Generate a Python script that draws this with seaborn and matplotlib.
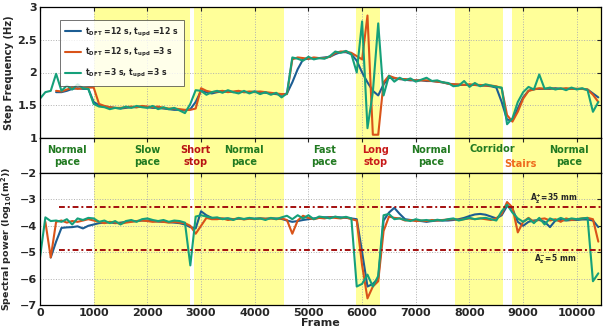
import numpy as np
import pandas as pd
import matplotlib
matplotlib.use("Agg")
import matplotlib.pyplot as plt
import seaborn as sns

frames = list(range(0, 10500, 100))
nan = np.nan

freq_blue = [nan, nan, nan, 1.70, 1.70, 1.72, 1.75, 1.76, 1.75, 1.75,
             1.55, 1.50, 1.48, 1.47, 1.46, 1.45, 1.46, 1.47, 1.47, 1.48,
             1.47, 1.46, 1.46, 1.45, 1.44, 1.43, 1.43, 1.42, 1.44, 1.55,
             1.72, 1.70, 1.68, 1.70, 1.71, 1.71, 1.70, 1.71, 1.70, 1.70,
             1.71, 1.70, 1.69, 1.68, 1.67, 1.66, 1.68, 1.85, 2.05, 2.20,
             2.21, 2.22, 2.22, 2.23, 2.24, 2.28, 2.31, 2.31, 2.28, 2.18,
             2.00, 1.85, 1.72, 1.65, 1.82, 1.92, 1.91, 1.90, 1.89, 1.88,
             1.88, 1.88, 1.87, 1.87, 1.86, 1.85, 1.83, 1.82, 1.81, 1.81,
             1.81, 1.81, 1.80, 1.80, 1.79, 1.77, 1.55, 1.28, 1.27, 1.45,
             1.62, 1.72, 1.75, 1.75, 1.75, 1.75, 1.76, 1.75, 1.75, 1.75,
             1.75, 1.75, 1.74, 1.68, 1.62]
freq_orange = [nan, nan, nan, 1.72, 1.71, 1.74, 1.77, 1.75, 1.76, 1.77,
               1.77, 1.52, 1.49, 1.47, 1.46, 1.46, 1.47, 1.48, 1.47, 1.49,
               1.48, 1.47, 1.48, 1.46, 1.45, 1.45, 1.44, 1.43, 1.43, 1.45,
               1.76, 1.72, 1.70, 1.71, 1.72, 1.70, 1.71, 1.72, 1.70, 1.71,
               1.70, 1.71, 1.70, 1.69, 1.68, 1.67, 1.67, 2.20, 2.23, 2.22,
               2.21, 2.23, 2.22, 2.22, 2.24, 2.30, 2.32, 2.32, 2.30, 2.25,
               2.20, 2.87, 1.05, 1.05, 1.85, 1.95, 1.92, 1.90, 1.90, 1.89,
               1.88, 1.88, 1.88, 1.87, 1.86, 1.85, 1.83, 1.82, 1.82, 1.81,
               1.82, 1.81, 1.81, 1.80, 1.80, 1.79, 1.76, 1.35, 1.25, 1.40,
               1.60, 1.72, 1.74, 1.76, 1.75, 1.76, 1.75, 1.75, 1.76, 1.75,
               1.75, 1.75, 1.74, 1.66, 1.55]
freq_green = [1.60, 1.70, 1.72, 1.98, 1.72, 1.80, 1.74, 1.82, 1.76, 1.75,
              1.52, 1.48, 1.47, 1.44, 1.46, 1.45, 1.48, 1.46, 1.49, 1.47,
              1.46, 1.49, 1.44, 1.47, 1.44, 1.46, 1.42, 1.38, 1.52, 1.73,
              1.72, 1.66, 1.70, 1.72, 1.69, 1.73, 1.70, 1.68, 1.72, 1.68,
              1.71, 1.67, 1.70, 1.66, 1.69, 1.62, 1.68, 2.23, 2.21, 2.18,
              2.24, 2.20, 2.22, 2.21, 2.25, 2.32, 2.30, 2.33, 2.28, 2.00,
              2.78, 1.15, 1.70, 2.75, 1.65, 1.95, 1.86, 1.92, 1.88, 1.91,
              1.86, 1.89, 1.92, 1.87, 1.88, 1.85, 1.84, 1.79, 1.80, 1.87,
              1.78, 1.84, 1.79, 1.82, 1.80, 1.78, 1.77, 1.21, 1.30, 1.55,
              1.70, 1.78, 1.74, 1.97, 1.75, 1.77, 1.74, 1.76, 1.73, 1.77,
              1.74, 1.76, 1.73, 1.40, 1.55]

pow_blue = [nan, nan, -5.20, -4.60, -4.08, -4.06, -4.05, -4.02, -4.10, -4.00,
            -3.95, -3.90, -3.88, -3.87, -3.90, -3.88, -3.85, -3.83, -3.82, -3.80,
            -3.80, -3.82, -3.84, -3.85, -3.86, -3.88, -3.90, -3.95, -4.05, -4.10,
            -3.45, -3.60, -3.70, -3.72, -3.73, -3.72, -3.75, -3.73, -3.74, -3.72,
            -3.73, -3.72, -3.73, -3.72, -3.72, -3.74, -3.80, -3.85, -3.82, -3.78,
            -3.75, -3.72, -3.70, -3.68, -3.67, -3.67, -3.68, -3.70, -3.72, -3.75,
            -5.00, -6.30, -6.20, -6.00, -3.80, -3.50, -3.32, -3.55, -3.75, -3.78,
            -3.80, -3.82, -3.85, -3.82, -3.80, -3.80, -3.80, -3.78, -3.75, -3.70,
            -3.63, -3.57, -3.55, -3.58, -3.65, -3.72, -3.60, -3.25, -3.35, -3.85,
            -4.00, -3.85, -3.80, -3.78, -3.85, -4.05, -3.80, -3.78, -3.80, -3.78,
            -3.78, -3.76, -3.76, -3.80, -4.05]
pow_orange = [nan, -3.85, -5.20, -3.85, -3.80, -3.88, -3.82, -3.85, -3.80, -3.75,
              -3.80, -3.85, -3.90, -3.85, -3.88, -3.92, -3.88, -3.85, -3.82, -3.80,
              -3.82, -3.85, -3.83, -3.85, -3.88, -3.85, -3.88, -3.90, -4.00, -4.30,
              -4.00, -3.70, -3.75, -3.75, -3.72, -3.78, -3.75, -3.72, -3.76, -3.73,
              -3.75, -3.72, -3.74, -3.72, -3.75, -3.72, -3.78, -4.30, -3.80, -3.62,
              -3.70, -3.75, -3.70, -3.72, -3.68, -3.70, -3.72, -3.68, -3.75, -3.80,
              -5.50, -6.75, -6.30, -6.10, -4.20, -3.65, -3.70, -3.72, -3.80, -3.78,
              -3.82, -3.80, -3.82, -3.78, -3.80, -3.78, -3.76, -3.75, -3.78, -3.75,
              -3.72, -3.75, -3.72, -3.75, -3.78, -3.72, -3.55, -3.10, -3.30, -4.25,
              -3.85, -3.70, -3.85, -3.75, -3.72, -3.80, -3.75, -3.85, -3.72, -3.78,
              -3.75, -3.72, -3.70, -3.75, -4.60]
pow_green = [-5.20, -3.68, -3.82, -3.80, -3.85, -3.75, -3.95, -3.72, -3.78, -3.70,
             -3.72, -3.85, -3.80, -3.90, -3.82, -3.95, -3.82, -3.78, -3.85, -3.75,
             -3.72, -3.78, -3.82, -3.78, -3.85, -3.80, -3.82, -3.88, -5.50, -3.65,
             -3.60, -3.65, -3.70, -3.68, -3.75, -3.72, -3.78, -3.70, -3.75, -3.70,
             -3.74, -3.72, -3.78, -3.70, -3.75, -3.68, -3.62, -3.75, -3.60, -3.72,
             -3.60, -3.75, -3.65, -3.68, -3.72, -3.65, -3.70, -3.66, -3.72, -6.30,
             -6.20, -5.85, -6.30, -5.90, -3.60, -3.55, -3.75, -3.72, -3.78, -3.82,
             -3.75, -3.80, -3.78, -3.82, -3.77, -3.80, -3.75, -3.72, -3.80, -3.75,
             -3.70, -3.75, -3.72, -3.70, -3.75, -3.80, -3.45, -3.20, -3.50, -3.72,
             -3.85, -3.72, -3.90, -3.70, -3.95, -3.72, -3.80, -3.70, -3.78, -3.72,
             -3.75, -3.72, -3.70, -6.10, -5.80]

series_labels = [r"$t_{\mathrm{DFT}}$ =12 s, $t_{\mathrm{upd}}$ =12 s",
                 r"$t_{\mathrm{DFT}}$ =12 s, $t_{\mathrm{upd}}$ =3 s",
                 r"$t_{\mathrm{DFT}}$ =3 s, $t_{\mathrm{upd}}$ =3 s"]
colors = ["#1c5d93", "#d95319", "#15a07a"]

# activity segments (shaded) and labels
shaded = [(1000, 2800), (2870, 4550), (5890, 6340), (7730, 8630), (8790, 10450)]
activities = ["Normal\npace", "Slow\npace", "Short\nstop", "Normal\npace", "Fast\npace",
              "Long\nstop", "Normal\npace", "Corridor", "Stairs", "Normal\npace"]
activity_pos = [500, 2000, 2900, 3800, 5300, 6250, 7280, 8430, 8950, 9850]
activity_y = [0.48, 0.48, 0.48, 0.48, 0.48, 0.48, 0.48, 0.70, 0.26, 0.48]
activity_col = ["#217a21", "#217a21", "#b81414", "#217a21", "#217a21",
                "#c81a1a", "#217a21", "#217a21", "#ee6a1c", "#217a21"]
thresholds = [-3.3, -4.9]
threshold_labels = [r"$\mathbf{A_z^{+}}$=35 mm", r"$\mathbf{A_z^{-}}$=5 mm"]

rows = []
for lab, fq, pw in zip(series_labels, [freq_blue, freq_orange, freq_green],
                       [pow_blue, pow_orange, pow_green]):
    for f, a, b in zip(frames, fq, pw):
        rows.append({"frame": f, "freq": a, "power": b, "series": lab})
df = pd.DataFrame(rows)

sns.set_theme(style="white")
plt.rcParams["font.family"] = ["DejaVu Sans"]
plt.rcParams["font.weight"] = "bold"
plt.rcParams["mathtext.default"] = "regular"

fig = plt.figure(figsize=(6.03, 3.34), dpi=100)
L, R = 40 / 603, 601 / 603
ax1 = fig.add_axes([L, 1 - 138 / 334, R - L, 131 / 334])
axm = fig.add_axes([L, 1 - 173 / 334, R - L, 35 / 334], sharex=ax1)
ax2 = fig.add_axes([L, 1 - 305 / 334, R - L, 132 / 334], sharex=ax1)

pal = dict(zip(series_labels, colors))
for ax in (ax1, axm, ax2):
    for a, b in shaded:
        ax.axvspan(a, b, color="#ffff99", zorder=0.1, lw=0)

sns.lineplot(data=df.dropna(subset=["freq"]), x="frame", y="freq", hue="series",
             palette=pal, estimator=None, lw=1.5, ax=ax1, hue_order=series_labels)
sns.lineplot(data=df.dropna(subset=["power"]), x="frame", y="power", hue="series",
             palette=pal, estimator=None, lw=1.5, ax=ax2, legend=False,
             hue_order=series_labels)

h, l = ax1.get_legend_handles_labels()
leg = ax1.legend(h, l, loc="upper left", bbox_to_anchor=(0.028, 0.93), fontsize=5.6,
                 frameon=True, fancybox=False, edgecolor="#333333", handlelength=2.0,
                 borderpad=0.7, labelspacing=1.0, handletextpad=0.6)
leg.get_frame().set_linewidth(0.6)

xticks = list(range(0, 10001, 1000))
for ax in (ax1, axm, ax2):
    ax.set_xlim(0, 10450)
    ax.set_xticks(xticks)
    ax.tick_params(direction="in", top=True, right=True, length=3, width=0.8,
                   labelsize=8, pad=2)
    for s in ax.spines.values():
        s.set_linewidth(0.9)
        s.set_color("black")

ax1.set_ylim(1, 3)
ax1.set_yticks([1, 1.5, 2, 2.5, 3])
ax1.set_yticklabels(["1", "1.5", "2", "2.5", "3"])
ax1.tick_params(labelbottom=False)
ax1.set_xlabel("")
ax1.set_ylabel("Step Frequency (Hz)", fontsize=7.2, fontweight="bold")
ax1.yaxis.set_label_coords(-0.047, 0.5)
ax1.grid(True, ls=":", color="#b0b0b0", lw=0.7)
ax1.set_axisbelow(True)

ax2.set_ylim(-7, -2)
ax2.set_yticks([-2, -3, -4, -5, -6, -7])
ax2.set_xlabel("Frame", fontsize=8, fontweight="bold", labelpad=0)
ax2.set_ylabel(r"Spectral power (log$_{10}$(m$^2$))", fontsize=6.8, fontweight="bold")
ax2.yaxis.set_label_coords(-0.047, 0.5)
ax2.grid(True, ls=":", color="#b0b0b0", lw=0.7)
ax2.set_axisbelow(True)
for y in thresholds:
    ax2.hlines(y, 360, 10450, colors="#a30f0f", linestyles=(0, (3, 1.5, 1, 1.5)),
               lw=1.4, zorder=3)
ax2.text(9570, -2.97, threshold_labels[0], fontsize=5.5, fontweight="bold",
         ha="center", va="center")
ax2.text(9600, -5.28, threshold_labels[1], fontsize=5.5, fontweight="bold",
         ha="center", va="center")
for t in ax1.get_yticklabels() + ax2.get_yticklabels() + ax2.get_xticklabels():
    t.set_fontweight("bold")

axm.set_ylim(0, 1)
axm.set_yticks([])
axm.tick_params(labelbottom=False, left=False, right=False)
for name, x, yy, c in zip(activities, activity_pos, activity_y, activity_col):
    axm.text(x, yy, name, ha="center", va="center", fontsize=7, fontweight="bold",
             color=c, linespacing=1.25)

fig.savefig("out.png", dpi=100)
